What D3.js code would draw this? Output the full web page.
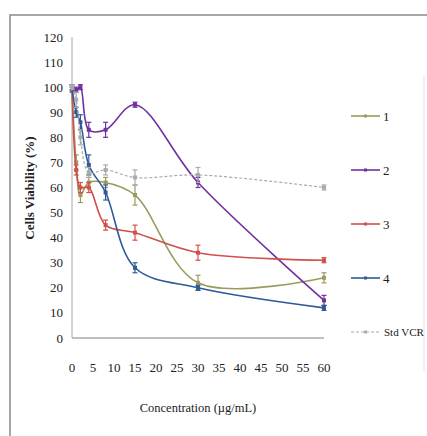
<!DOCTYPE html>
<html>
<head>
<meta charset="utf-8">
<script src="https://cdn.jsdelivr.net/npm/d3@7"></script>
<style>
  body { margin: 0; background: #fff; }
  svg { display: block; }
  text { font-family: "Liberation Serif", "DejaVu Serif", serif; fill: #222; }
</style>
</head>
<body>
<svg width="427" height="436"></svg>
<script>
// concentrations (ug/mL) and viability readings
var conc = [0, 1, 2, 4, 8, 15, 30, 60];
var s1 = [100, 70, 57, 62, 62, 57, 22, 24];
var s2 = [99, 99, 100, 83, 83, 93, 62, 15];
var s3 = [100, 67, 60, 60, 45, 42, 34, 31];
var s4 = [100, 90, 86, 69, 58, 28, 20, 12];
var std = [100, 95, 80, 66, 67, 64, 65, 60];
var e1 = [1, 3, 3, 2, 2, 4, 3, 2];
var e2 = [1, 1, 1, 3, 3, 1, 2, 2];
var e3 = [1, 2, 2, 2, 2, 3, 3, 1];
var e4 = [1, 2, 3, 4, 3, 2, 1, 1];
var eStd = [1, 3, 3, 2, 2, 3, 3, 1];
var names = ["1", "2", "3", "4", "Std VCR"];
var colors = ["#9c9a5c", "#7030a0", "#d0504a", "#2d5a9a", "#aaaaaa"];
var yTicks = d3.range(0, 121, 10);
var xTicks = d3.range(0, 61, 5);

var series = [
  {name: names[0], vals: s1, err: e1, color: colors[0]},
  {name: names[1], vals: s2, err: e2, color: colors[1]},
  {name: names[2], vals: s3, err: e3, color: colors[2]},
  {name: names[3], vals: s4, err: e4, color: colors[3]},
  {name: names[4], vals: std, err: eStd, color: colors[4], dashed: true}
];

var svg = d3.select("svg");

// outer frame
svg.append("rect").attr("x", 10).attr("y", 15).attr("width", 440).attr("height", 440)
  .attr("fill", "none").attr("stroke", "#8a8a8a").attr("stroke-width", 1.5);
// legend box edge
svg.append("line").attr("x1", 424).attr("x2", 424).attr("y1", 75).attr("y2", 372)
  .attr("stroke", "#e4e4e4");

var x = d3.scaleLinear().domain([0, 60]).range([72, 324]);
var y = d3.scaleLinear().domain([0, 120]).range([338, 37]);

svg.append("line").attr("x1", x(0)).attr("x2", x(0)).attr("y1", y(120)).attr("y2", y(0))
  .attr("stroke", "#a8a8a8");
svg.append("line").attr("x1", x(0)).attr("x2", x(60)).attr("y1", y(0)).attr("y2", y(0))
  .attr("stroke", "#a8a8a8").attr("stroke-width", 1.5);

svg.selectAll(".yt").data(yTicks).enter().append("text")
  .attr("x", 63).attr("y", function(d) { return y(d); }).attr("dy", "0.35em")
  .attr("text-anchor", "end").attr("font-size", 13).text(function(d) { return d; });

svg.selectAll(".xt").data(xTicks).enter().append("text")
  .attr("x", function(d) { return x(d); }).attr("y", 372)
  .attr("text-anchor", "middle").attr("font-size", 13).text(function(d) { return d; });

svg.append("text").attr("x", 198).attr("y", 412).attr("text-anchor", "middle")
  .attr("font-size", 12.5).text("Concentration (µg/mL)");

svg.append("text").attr("transform", "translate(34,188) rotate(-90)")
  .attr("text-anchor", "middle").attr("font-size", 13).attr("font-weight", "bold")
  .text("Cells Viability (%)");

var line = d3.line()
  .x(function(d) { return x(d.c); })
  .y(function(d) { return y(d.v); })
  .curve(d3.curveCatmullRom.alpha(0.5));

series.forEach(function(s) {
  var pts = conc.map(function(c, i) { return {c: c, v: s.vals[i], e: s.err[i]}; });
  var g = svg.append("g");
  g.append("path").datum(pts).attr("d", line).attr("fill", "none")
    .attr("stroke", s.color).attr("stroke-width", s.dashed ? 1.2 : 1.6)
    .attr("stroke-dasharray", s.dashed ? "3,2" : null);
  var eb = g.selectAll(".eb").data(pts).enter().append("g");
  eb.append("line").attr("x1", function(d) { return x(d.c); }).attr("x2", function(d) { return x(d.c); })
    .attr("y1", function(d) { return y(d.v - d.e); }).attr("y2", function(d) { return y(d.v + d.e); })
    .attr("stroke", s.color).attr("stroke-width", 1.2);
  [-1, 1].forEach(function(k) {
    eb.append("line").attr("x1", function(d) { return x(d.c) - 2.5; }).attr("x2", function(d) { return x(d.c) + 2.5; })
      .attr("y1", function(d) { return y(d.v + k * d.e); }).attr("y2", function(d) { return y(d.v + k * d.e); })
      .attr("stroke", s.color).attr("stroke-width", 1.2);
  });
  g.selectAll(".mk").data(pts).enter().append("rect")
    .attr("x", function(d) { return x(d.c) - 2; }).attr("y", function(d) { return y(d.v) - 2; })
    .attr("width", 4).attr("height", 4).attr("fill", s.color);
});

// legend
var lg = svg.selectAll(".lg").data(series).enter().append("g")
  .attr("transform", function(d, i) { return "translate(351," + (116 + i * 54) + ")"; });
lg.append("line").attr("x1", 0).attr("x2", 29).attr("y1", 0).attr("y2", 0)
  .attr("stroke", function(d) { return d.color; }).attr("stroke-width", function(d) { return d.dashed ? 1 : 1.6; })
  .attr("stroke-dasharray", function(d) { return d.dashed ? "3,2" : null; });
lg.append("rect").attr("x", 13).attr("y", -1.5).attr("width", 3).attr("height", 3)
  .attr("fill", function(d) { return d.color; });
lg.filter(function(d) { return !d.dashed; }).append("text")
  .attr("x", 32).attr("dy", "0.35em").attr("font-size", 13)
  .text(function(d) { return d.name; });
lg.filter(function(d) { return d.dashed; }).append("text")
  .attr("x", 33).attr("dy", "0.35em").attr("font-size", 11)
  .text(function(d) { return d.name; });
</script>
</body>
</html>
